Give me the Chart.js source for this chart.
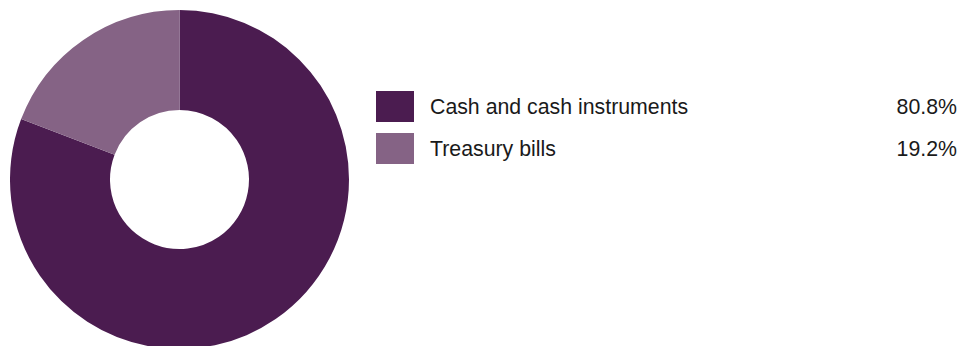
<!DOCTYPE html>
<html>
<head>
  <title>Cash breakdown</title>
  <script src="https://cdn.jsdelivr.net/npm/chart.js"></script>
  <style>
    html, body {
      margin: 0;
      padding: 0;
      width: 964px;
      height: 346px;
      overflow: hidden;
      background-color: #FFFFFF;
      font-family: "Liberation Sans", Arial, sans-serif;
    }

    .chart-container {
      position: absolute;
      left: 10px;
      top: 10px;
      width: 339px;
      height: 339px;
    }

    .legend {
      position: absolute;
      left: 376px;
      top: 91px;
      width: 581px;
    }

    .legend-row {
      position: relative;
      height: 31px;
      margin-bottom: 11px;
      font-size: 21.3px;
      color: #1a1a1a;
      line-height: 31px;
    }

    .legend-box {
      position: absolute;
      left: 0;
      top: 0;
      width: 38px;
      height: 31px;
    }

    .legend-label {
      position: absolute;
      left: 54px;
      top: 1px;
    }

    .legend-value {
      position: absolute;
      right: 0;
      top: 1px;
    }
  </style>
</head>
<body>
  <div class="chart-container">
    <canvas id="holdingsChart"></canvas>
  </div>
  <div class="legend" id="legend"></div>

  <script>
    const categories = ['Cash and cash instruments', 'Treasury bills'];
    const shares = [80.8, 19.2];
    const colors = ['#4B1C50', '#856385'];

    // Legend on the right: colour box, name, share
    const legend = document.getElementById('legend');
    categories.forEach((name, i) => {
      const row = document.createElement('div');
      row.className = 'legend-row';
      row.innerHTML =
        `<div class="legend-box" style="background-color:${colors[i]}"></div>` +
        `<span class="legend-label">${name}</span>` +
        `<span class="legend-value">${shares[i].toFixed(1)}%</span>`;
      legend.appendChild(row);
    });

    const ctx = document.getElementById('holdingsChart').getContext('2d');
    new Chart(ctx, {
      type: 'doughnut',
      data: {
        labels: categories,
        datasets: [
          {
            data: shares,
            backgroundColor: colors,
            borderWidth: 0,
            hoverOffset: 0,
            offset: 0,
          },
        ],
      },
      options: {
        responsive: true,
        maintainAspectRatio: false,
        animation: false,
        cutout: '41%',
        layout: { padding: 0 },
        plugins: {
          legend: { display: false },
          tooltip: { enabled: false },
        },
      },
    });
  </script>
</body>
</html>
